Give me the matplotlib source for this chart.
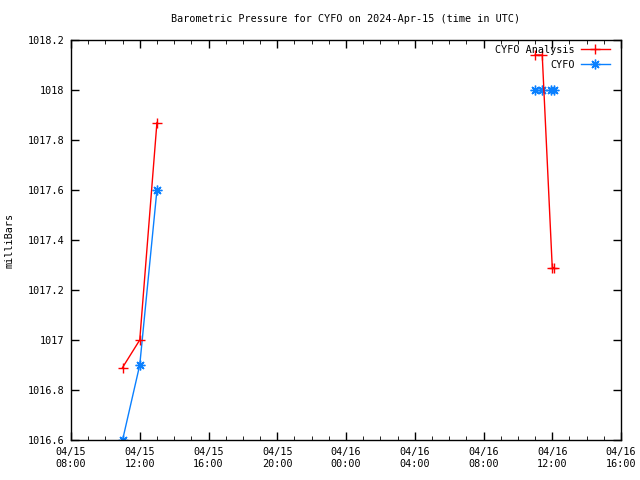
import matplotlib
matplotlib.use("Agg")
import matplotlib.pyplot as plt
import matplotlib.dates as mdates
import numpy as np
import pandas as pd

analysis_times = ["2024-04-15 11:00", "2024-04-15 12:00", "2024-04-15 13:00",
                  "2024-04-16 11:00", "2024-04-16 11:25", "2024-04-16 12:00", "2024-04-16 12:06"]
analysis_vals = [1016.89, 1017.00, 1017.87, 1018.14, 1018.14, 1017.29, 1017.29]

obs_times = ["2024-04-15 11:00", "2024-04-15 12:00", "2024-04-15 13:00",
             "2024-04-16 11:00", "2024-04-16 11:25", "2024-04-16 11:55", "2024-04-16 12:06"]
obs_vals = [1016.6, 1016.9, 1017.6, 1018.0, 1018.0, 1018.0, 1018.0]

title = "Barometric Pressure for CYFO on 2024-Apr-15 (time in UTC)"
ylabel = "milliBars"
xmin, xmax = "2024-04-15 08:00", "2024-04-16 16:00"
ymin, ymax = 1016.6, 1018.2

FS = 7.3
plt.rcParams['font.family'] = ['DejaVu Sans Mono']
plt.rcParams['font.size'] = FS

fig = plt.figure(figsize=(6.4, 4.8), dpi=100)
ax = fig.add_axes([71/640, 40/480, 550/640, 400/480])


def segments(times, vals, gap_hours=3):
    t = pd.to_datetime(times)
    v = np.array(vals)
    segs = []
    start = 0
    for i in range(1, len(t)):
        if (t[i] - t[i-1]).total_seconds() / 3600 > gap_hours:
            segs.append((t[start:i], v[start:i]))
            start = i
    segs.append((t[start:], v[start:]))
    return segs


red = '#ff0000'
blue = '#0a80ff'
for k, (t, v) in enumerate(segments(analysis_times, analysis_vals)):
    ax.plot(t, v, color=red, lw=1, marker='+', ms=7, mew=1,
            label="CYFO Analysis" if k == 0 else None, zorder=3)
for k, (t, v) in enumerate(segments(obs_times, obs_vals)):
    ax.plot(t, v, color=blue, lw=1, marker=(8, 2, 0), ms=7, mew=1,
            label="CYFO" if k == 0 else None, zorder=2)

ax.set_xlim(pd.Timestamp(xmin), pd.Timestamp(xmax))
ax.set_ylim(ymin, ymax)
ax.xaxis.set_major_locator(mdates.HourLocator(byhour=range(0, 24, 4)))
ax.xaxis.set_minor_locator(mdates.HourLocator())
ax.xaxis.set_major_formatter(mdates.DateFormatter('%m/%d\n%H:%M'))
yt = np.round(np.arange(1016.6, 1018.21, 0.2), 1)
ax.set_yticks(yt)
ax.set_yticklabels([f"{y:g}" for y in yt])
ax.tick_params(axis='both', which='major', direction='in', length=6, width=1,
               top=True, right=True, labelsize=FS, pad=5)
ax.tick_params(axis='x', which='minor', direction='in', length=3, top=True, bottom=True)
for s in ax.spines.values():
    s.set_linewidth(1)

fig.text(346/640, 1 - 19/480, title, ha='center', va='center', fontsize=FS)
fig.text(10/640, 0.5, ylabel, rotation=90, ha='center', va='center', fontsize=FS)

leg = fig.legend(loc='upper right', bbox_to_anchor=(612/640, 437/480),
                 frameon=False, markerfirst=False, fontsize=FS,
                 handlelength=2.9, borderaxespad=0, handletextpad=0.6, labelspacing=0.45,
                 borderpad=0.2)
for t in leg.get_texts():
    t.set_ha('right')

fig.savefig('out.png', dpi=100)
